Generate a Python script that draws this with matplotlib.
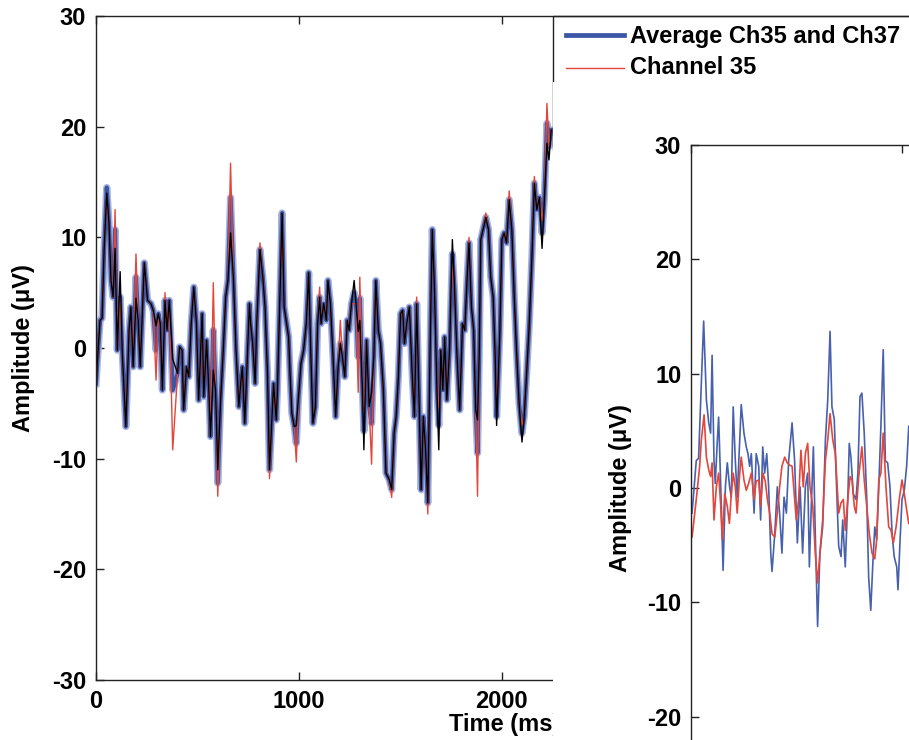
import matplotlib
matplotlib.use('Agg')
import matplotlib.pyplot as plt
from matplotlib.lines import Line2D
from matplotlib.patches import Rectangle

plt.rcParams['font.family'] = ['Liberation Sans', 'DejaVu Sans']
plt.rcParams['font.weight'] = 'bold'
plt.rcParams['axes.unicode_minus'] = False

# ---- left panel: averaged trace and single channels (time in ms, amplitude in uV)
t_left = [0, 6, 20, 30, 40, 53, 64, 74, 84, 94,
          105, 119, 129, 147, 163, 172, 183, 197, 208, 218,
          238, 254, 271, 282, 296, 307, 317, 327, 340, 350,
          361, 378, 402, 412, 424, 432, 446, 457, 469, 482,
          495, 506, 523, 531, 545, 556, 564, 578, 589, 600,
          614, 627, 639, 650, 663, 677, 690, 704, 713, 721,
          733, 746, 756, 762, 772, 784, 792, 808, 822, 833,
          845, 855, 866, 875, 888, 894, 907, 917, 927, 937,
          949, 956, 965, 977, 987, 998, 1010, 1023, 1036, 1048,
          1059, 1069, 1081, 1092, 1102, 1109, 1122, 1135, 1143, 1155,
          1168, 1181, 1193, 1204, 1214, 1226, 1238, 1247, 1259, 1272,
          1281, 1292, 1300, 1313, 1320, 1333, 1346, 1358, 1369, 1379,
          1391, 1402, 1416, 1429, 1445, 1457, 1469, 1479, 1490, 1501,
          1511, 1520, 1531, 1544, 1558, 1569, 1580, 1590, 1602, 1613,
          1624, 1635, 1647, 1657, 1668, 1680, 1689, 1699, 1709, 1718,
          1729, 1742, 1756, 1767, 1779, 1792, 1806, 1817, 1829, 1838,
          1850, 1861, 1871, 1880, 1888, 1896, 1907, 1921, 1934, 1945,
          1957, 1967, 1974, 1983, 1990, 2000, 2011, 2023, 2036, 2049,
          2061, 2072, 2085, 2099, 2110, 2122, 2135, 2148, 2160, 2172,
          2185, 2198, 2209, 2222, 2232, 2243]

avg_3537 = [-3.2, -1.4, 2.5, 2.7, 8.9, 14.5, 11.3, 6.1, 4.6, 10.7,
            -0.2, 4.6, -0.2, -7.1, 1.6, 3.7, -1.7, 6.4, 2.5, -1.7,
            7.7, 4.3, 4.0, 3.4, -0.2, 3.1, 2.2, -3.8, 4.3, 1.6,
            4.3, -3.8, -2.3, 0.1, -0.2, -5.6, -1.7, -2.6, 2.2, 5.5,
            2.2, -4.7, 3.1, -4.4, 0.7, -3.8, -8.0, 1.6, -3.8, -12.2,
            -4.7, -0.2, 4.6, 6.1, 13.6, 6.4, -0.2, -5.3, -3.2, -1.7,
            -6.8, -0.8, 4.0, 2.2, 0.4, -3.2, 2.2, 8.9, 6.4, 3.7,
            -2.3, -11.0, -6.8, -3.2, -6.5, -3.8, 5.2, 12.2, 3.7, 2.5,
            1.0, -2.3, -5.9, -7.1, -8.6, -4.4, -1.4, -0.2, 2.2, 6.8,
            -0.8, -6.8, -5.3, 2.2, 4.6, 2.2, 4.0, 2.5, 6.1, 4.0,
            -0.8, -6.2, -1.7, 0.4, -0.8, -2.6, 2.5, 1.6, 4.0, 5.0,
            4.0, -0.8, 4.5, -3.8, -7.5, 0.7, -5.3, -6.8, -0.8, 6.1,
            1.6, 0.4, -3.8, -11.3, -11.9, -12.8, -7.7, -6.2, -2.6, 3.1,
            3.4, 0.4, 2.2, 3.7, -2.3, -6.2, 4.0, -3.2, -12.8, -6.2,
            -9.2, -14.0, 0.7, 10.7, 5.2, -3.8, -7.0, -0.2, -3.8, 1.0,
            -4.7, -0.2, 8.5, 5.2, -0.8, -5.6, 2.2, 1.6, 6.4, 9.5,
            3.7, 1.6, -5.6, -9.5, -0.8, 9.8, 10.7, 11.8, 10.7, 6.4,
            4.6, -0.8, -6.2, -2.0, 1.6, 9.8, 10.4, 9.5, 13.4, 10.7,
            4.6, -0.2, -5.0, -7.7, -6.2, -2.3, 2.2, 8.2, 14.9, 12.5,
            13.6, 10.4, 13.4, 20.3, 18.2, 19.7]

ch35 = [-3.0, -1.4, 2.5, 2.7, 8.9, 13.5, 11.3, 6.1, 4.6, 12.5,
        -0.2, 4.6, -0.2, -7.1, 1.6, 3.7, -1.7, 8.5, 2.5, -1.7,
        7.7, 4.3, 4.0, 3.4, -2.9, 3.1, 2.2, -3.8, 5.0, 1.6,
        4.3, -9.2, -2.3, 0.1, -0.2, -5.6, -1.7, -2.6, 2.2, 5.5,
        2.2, -4.7, 3.1, -4.4, 0.7, -3.8, -8.0, 5.9, -3.8, -13.4,
        -4.7, -0.2, 4.6, 6.1, 16.7, 6.4, -0.2, -5.3, -3.2, -1.7,
        -6.8, -0.8, 4.0, 2.2, 0.4, -3.2, 2.2, 9.5, 6.4, 3.7,
        -2.3, -11.8, -6.8, -3.2, -6.5, -3.8, 5.2, 12.2, 3.7, 2.5,
        1.0, -2.3, -5.9, -7.1, -10.3, -4.4, -1.4, -0.2, 2.2, 6.8,
        -0.8, -6.8, -5.3, 2.2, 5.5, 2.2, 4.0, 2.5, 6.1, 4.0,
        -0.8, -6.2, -1.7, 2.5, -0.8, -2.6, 2.5, 1.6, 4.0, 4.0,
        4.0, -4.0, 6.4, -3.8, -5.8, 0.7, -5.3, -10.5, -0.8, 6.1,
        1.6, 0.4, -3.8, -11.3, -11.9, -13.5, -7.7, -6.2, -2.6, 3.1,
        3.4, 0.4, 2.2, 3.7, -2.3, -6.2, 4.6, -3.2, -12.8, -6.2,
        -9.2, -15.0, 0.7, 10.7, 5.2, -3.8, -5.5, -0.2, -3.8, 1.0,
        -4.7, -0.2, 7.5, 5.2, -0.8, -5.6, 2.2, 1.6, 6.4, 10.0,
        3.7, 1.6, -5.6, -13.4, -0.8, 9.8, 10.7, 12.2, 10.7, 6.4,
        4.6, -0.8, -5.5, -2.0, 1.6, 9.8, 10.4, 9.5, 14.2, 10.7,
        4.6, -0.2, -5.0, -7.0, -6.2, -2.3, 2.2, 8.2, 15.5, 12.5,
        13.6, 11.5, 13.4, 22.1, 18.2, 19.7]

ch37 = [-4.5, -1.4, 2.5, 2.7, 8.9, 14.0, 11.3, 6.1, 4.6, 9.0,
        -0.2, 6.9, -0.2, -7.1, 1.6, 3.7, -1.7, 4.5, 2.5, -1.7,
        7.7, 4.3, 4.0, 3.4, 2.0, 3.1, 2.2, -3.8, 4.3, 1.6,
        4.3, -1.0, -2.3, 0.1, -0.2, -5.6, -1.7, -2.6, 2.2, 5.5,
        2.2, -4.7, 3.1, -4.4, 0.7, -3.8, -8.0, -2.0, -3.8, -11.0,
        -4.7, -0.2, 4.6, 6.1, 10.4, 6.4, -0.2, -5.3, -3.2, -1.7,
        -6.8, -0.8, 4.0, 2.2, 0.4, -3.2, 2.2, 8.9, 6.4, 3.7,
        -2.3, -11.0, -6.8, -3.2, -6.5, -3.8, 5.2, 12.2, 3.7, 2.5,
        1.0, -2.3, -5.9, -7.1, -7.0, -4.4, -1.4, -0.2, 2.2, 6.8,
        -0.8, -6.8, -5.3, 2.2, 4.6, 2.2, 4.0, 2.5, 6.1, 4.0,
        -0.8, -6.2, -1.7, 0.4, -0.8, -2.6, 2.5, 1.6, 4.0, 6.1,
        4.0, 1.5, 2.5, -3.8, -9.2, 0.7, -5.3, -4.0, -0.8, 6.1,
        1.6, 0.4, -3.8, -11.3, -11.9, -12.8, -7.7, -6.2, -2.6, 3.1,
        3.4, 0.4, 2.2, 3.7, -2.3, -6.2, 4.0, -3.2, -12.8, -6.2,
        -9.2, -14.0, 0.7, 10.7, 5.2, -3.8, -9.2, -0.2, -3.8, 1.0,
        -4.7, -0.2, 9.8, 5.2, -0.8, -5.6, 2.2, 1.6, 6.4, 9.5,
        3.7, 1.6, -5.6, -6.5, -0.8, 9.8, 10.7, 11.8, 10.7, 6.4,
        4.6, -0.8, -7.0, -2.0, 1.6, 9.8, 10.4, 9.5, 13.4, 10.7,
        4.6, -0.2, -5.0, -8.5, -6.2, -2.3, 2.2, 8.2, 14.9, 12.5,
        13.6, 9.0, 13.4, 18.5, 17.0, 19.7]

# ---- right panel
t_right_blue = [5, 25, 36, 49, 60, 73, 84, 93, 100, 109,
                115, 125, 131, 141, 152, 163, 172, 183, 191, 200,
                210, 219, 231, 238, 251, 262, 270, 278, 286, 299,
                309, 321, 330, 340, 349, 359, 368, 378, 384, 397,
                409, 420, 431, 441, 452, 463, 479, 491, 504, 517,
                529, 542, 553, 561, 570, 580, 589, 600, 611, 624,
                637, 648, 659, 668, 679, 691, 700, 711, 719, 731,
                743, 750, 758, 769, 782, 791, 801, 810, 821, 833,
                842, 852, 861, 871, 880, 890, 900, 911, 921, 932,
                943, 953, 963, 975, 981, 991, 1000, 1011, 1022, 1032]
right_blue = [-2.2, 2.4, 2.6, 9.2, 14.6, 7.7, 5.7, 4.8, 11.6, 2.4,
              0.4, 4.2, 6.2, 0.1, -7.2, 0.1, 2.2, 0.1, -0.8, 7.1,
              2.4, -0.8, 4.2, 7.3, 4.8, 3.6, 3.0, 1.9, 3.0, -2.2,
              3.0, 1.9, -2.8, 3.6, 1.3, 3.0, 0.1, -5.7, -7.3, -4.0,
              0.1, -2.2, -5.7, -0.8, -2.2, 2.4, 5.7, 2.4, -4.8, 0.1,
              -5.7, 0.1, 1.3, -6.9, -1.6, 3.6, -4.0, -12.1, -5.7, -3.4,
              4.2, 7.7, 13.7, 7.1, 6.0, -0.5, -5.1, -6.0, -2.8, -6.9,
              -1.0, 3.9, 2.7, -0.5, -1.0, 1.3, 8.0, 8.3, 4.8, -1.0,
              -7.8, -10.7, -6.9, -3.4, -4.5, 0.1, 5.4, 12.1, 2.4, 2.2,
              0.1, -4.0, -6.0, -6.9, -8.9, -4.5, -1.0, -0.2, 1.9, 5.4]

t_right_red = [5, 25, 41, 49, 62, 73, 84, 93, 100, 109,
               120, 131, 141, 148, 160, 172, 182, 191, 200, 210,
               219, 231, 238, 251, 262, 273, 286, 299, 309, 321,
               330, 341, 352, 362, 373, 384, 397, 409, 420, 431,
               444, 456, 468, 479, 488, 499, 510, 521, 532, 542,
               553, 564, 577, 589, 600, 611, 624, 637, 648, 659,
               672, 684, 700, 711, 722, 731, 743, 754, 763, 774,
               782, 795, 810, 821, 833, 845, 858, 871, 880, 890,
               900, 911, 924, 937, 948, 959, 972, 987, 1000, 1011,
               1022, 1032]
right_red = [-4.3, -1.0, 1.9, 4.2, 6.4, 2.7, 1.6, 1.0, 2.2, -2.8,
             0.1, 1.3, -1.6, -4.5, -0.5, -1.6, -3.1, -0.5, 1.3, 0.1,
             -2.2, 1.3, 2.7, 0.7, -0.2, 0.4, 1.3, -1.0, 0.6, 0.7,
             -1.6, 1.3, 0.6, -1.0, -2.2, -4.0, -4.3, -2.2, 0.1, 1.9,
             2.7, 2.2, 2.0, 1.9, -0.2, -2.8, -1.0, 3.3, 0.1, 3.0,
             3.9, 0.1, -1.6, -5.7, -8.3, -5.7, -2.8, 2.4, 4.2, 6.5,
             4.2, 3.0, -2.2, -1.3, -1.0, -3.7, -1.0, 1.0, 0.7, -1.6,
             -2.2, 1.0, 3.6, 0.7, -1.6, -4.0, -5.7, -6.2, -4.5, 0.7,
             1.3, 4.8, 0.1, -3.4, -3.7, -4.8, -3.4, -1.0, 0.7, -0.5,
             -1.9, -3.1]

y_ticks = [-30, -20, -10, 0, 10, 20, 30]
y_ticks_right = [-20, -10, 0, 10, 20, 30]
x_ticks = [0, 1000, 2000]
legend_labels = ['Average Ch35 and Ch37', 'Channel 35']

BLUE = '#3a55a4'
BLUE_HALO = '#a9b5dd'
RED = '#e2463c'
FS = 17
W, H = 909, 740


# pixel -> figure fraction
def fx(x):
    return x / W


def fy(y):
    return 1 - y / H


def style_axes(ax, yt):
    for s in ax.spines.values():
        s.set_color('#222222')
        s.set_linewidth(1.0)
    ax.tick_params(direction='in', length=6, width=1, top=True, right=True,
                   labelsize=FS, colors='#222222', labelcolor='black')
    ax.tick_params(axis='y', pad=7)
    ax.tick_params(axis='x', pad=7)
    ax.set_yticks(yt)
    ax.set_ylim(-30, 30)
    ax.set_xticks(x_ticks)


fig = plt.figure(figsize=(9.09, 7.40), dpi=100)

# left panel (its right part is hidden under the second panel)
ax1 = fig.add_axes([fx(96), fy(680), fx(924) - fx(96), fy(16) - fy(680)])
ax1.plot(t_left, avg_3537, color=BLUE_HALO, lw=5.2, solid_joinstyle='round')
ax1.plot(t_left, avg_3537, color=BLUE, lw=3.0, solid_joinstyle='round')
ax1.plot(t_left, ch35, color=RED, lw=1.0)
ax1.plot(t_left, ch37, color='black', lw=1.0)
style_axes(ax1, y_ticks)
ax1.set_xlim(0, 4080)

fig.text(fx(24), fy(348), 'Amplitude (μV)', rotation=90, ha='center',
         va='center', fontsize=FS, fontweight='bold')
fig.text(fx(449), fy(725), 'Time (ms)', ha='left', va='center',
         fontsize=FS, fontweight='bold')

# legend box
fig.add_artist(Rectangle((fx(553), fy(150)), fx(960) - fx(553), fy(16) - fy(150),
                         transform=fig.transFigure, fill=False, ec='#222222',
                         lw=1.0, zorder=4))
fig.add_artist(Line2D([fx(566), fx(624)], [fy(35), fy(35)], color=BLUE, lw=3.4,
                      transform=fig.transFigure, zorder=4))
fig.add_artist(Line2D([fx(566), fx(624)], [fy(68), fy(68)], color=RED, lw=1.0,
                      transform=fig.transFigure, zorder=4))
fig.text(fx(630), fy(37), legend_labels[0], ha='left', va='center',
         fontsize=FS, fontweight='bold', zorder=4)
fig.text(fx(630), fy(68), legend_labels[1], ha='left', va='center',
         fontsize=FS, fontweight='bold', zorder=4)

# second figure pasted on top
fig.add_artist(Rectangle((fx(553), 0), 1, fy(82), transform=fig.transFigure,
                         fc='white', ec='none', zorder=5))

ax2 = fig.add_axes([fx(691), fy(831), 527.5 / W, 686 / H])
ax2.set_zorder(6)
ax2.plot(t_right_blue, right_blue, color='#4761ad', lw=1.2)
ax2.plot(t_right_red, right_red, color=RED, lw=1.2)
style_axes(ax2, y_ticks_right)
ax2.tick_params(axis='x', labelbottom=False)
ax2.set_xlim(0, 2500)

fig.text(fx(621), fy(488), 'Amplitude (μV)', rotation=90, ha='center',
         va='center', fontsize=FS, fontweight='bold', zorder=7)

fig.savefig('out.png', dpi=100)
